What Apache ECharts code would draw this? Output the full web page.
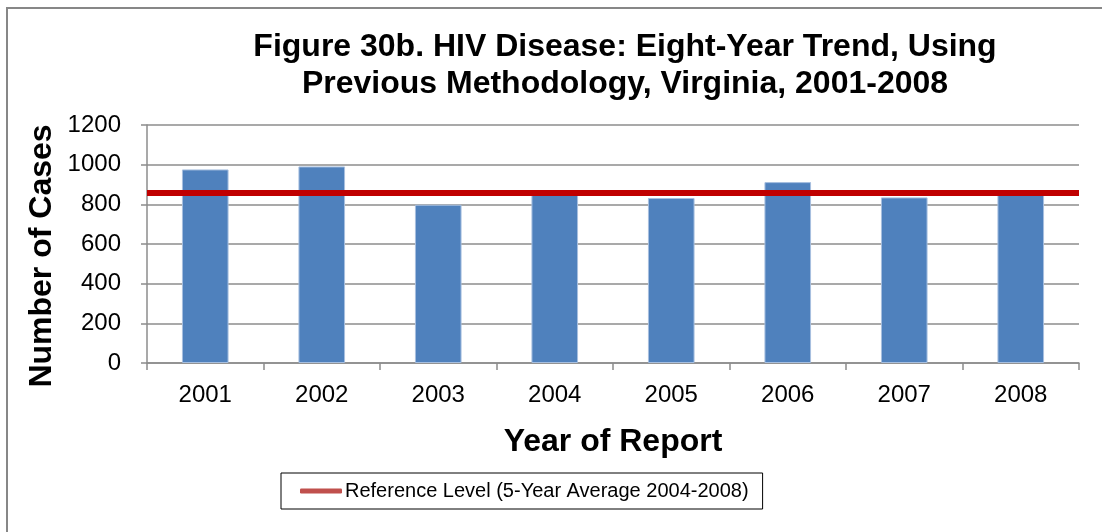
<!DOCTYPE html>
<html>
<head>
<meta charset="utf-8">
<script src="https://cdn.jsdelivr.net/npm/echarts@6/dist/echarts.min.js"></script>
<style>
  html, body { margin: 0; padding: 0; background: #fff; }
  #chart { width: 1102px; height: 532px; }
</style>
</head>
<body>
<div id="chart"></div>
<script>
const years = ["2001", "2002", "2003", "2004", "2005", "2006", "2007", "2008"];
const cases = [976, 991, 798, 862, 832, 912, 835, 859];
const referenceLevel = 860;
const yTicks = [0, 200, 400, 600, 800, 1000, 1200];

const font = "Liberation Sans, Arial, sans-serif";
const chart = echarts.init(document.getElementById("chart"));

chart.setOption({
  animation: false,
  backgroundColor: "#fff",
  title: {
    text: "Figure 30b. HIV Disease: Eight-Year Trend, Using\nPrevious Methodology, Virginia, 2001-2008",
    left: 620,
    top: 24,
    textAlign: "center",
    textStyle: {
      fontFamily: font,
      fontSize: 32,
      fontWeight: "bold",
      color: "#000",
      lineHeight: 37,
    },
  },
  legend: {
    left: 281,
    top: 473,
    padding: [8, 14, 8, 19],
    borderColor: "#000",
    borderWidth: 1,
    itemWidth: 42,
    itemHeight: 5,
    itemGap: 0,
    icon: "roundRect",
    textStyle: { fontFamily: font, fontSize: 20, color: "#000", padding: [0, 0, 0, -2] },
    data: ["Reference Level (5-Year Average 2004-2008)"],
  },
  grid: {
    left: 147,
    right: 23,
    top: 125,
    bottom: 169,
  },
  xAxis: {
    type: "category",
    data: years,
    name: "Year of Report",
    nameLocation: "middle",
    nameGap: 63,
    nameTextStyle: { fontFamily: font, fontSize: 32, fontWeight: "bold", color: "#000" },
    axisLine: { lineStyle: { color: "#8c8c8c", width: 1.5 } },
    axisTick: { show: true, length: 7, lineStyle: { color: "#8c8c8c", width: 1.5 } },
    axisLabel: { fontFamily: font, fontSize: 24, color: "#000", margin: 20 },
  },
  yAxis: {
    type: "value",
    min: 0,
    max: yTicks[yTicks.length - 1],
    interval: 200,
    axisLine: { show: true, lineStyle: { color: "#8c8c8c", width: 1.5 } },
    axisTick: { show: true, length: 6, lineStyle: { color: "#8c8c8c", width: 1.5 } },
    axisLabel: {
      fontFamily: font,
      fontSize: 24,
      color: "#000",
      margin: 26,
      formatter: (v) => String(v),
    },
    splitLine: { lineStyle: { color: "#8c8c8c", width: 1.5 } },
  },
  graphic: [
    {
      type: "text",
      x: 42,
      y: 256,
      rotation: Math.PI / 2,
      style: {
        text: "Number of Cases",
        fontFamily: font,
        fontSize: 32,
        fontWeight: "bold",
        fill: "#000",
        align: "center",
        verticalAlign: "middle",
      },
    },
    {
      type: "rect",
      shape: { x: 7, y: 8, width: 1200, height: 700 },
      style: { fill: "none", stroke: "#878787", lineWidth: 2 },
      silent: true,
    },
  ],
  series: [
    {
      type: "bar",
      name: "Cases",
      data: cases,
      barCategoryGap: "60%",
      itemStyle: { color: "#4F81BD", borderColor: "#a7bfdf", borderWidth: 1 },
    },
    {
      type: "line",
      name: "Reference Level (5-Year Average 2004-2008)",
      data: [],
      itemStyle: { color: "#C0504D" },
      lineStyle: { color: "#C0504D" },
      markLine: {
        symbol: "none",
        silent: true,
        label: { show: false },
        lineStyle: { color: "#C00000", width: 6, type: "solid" },
        data: [{ yAxis: referenceLevel }],
      },
    },
  ],
});
</script>
</body>
</html>
